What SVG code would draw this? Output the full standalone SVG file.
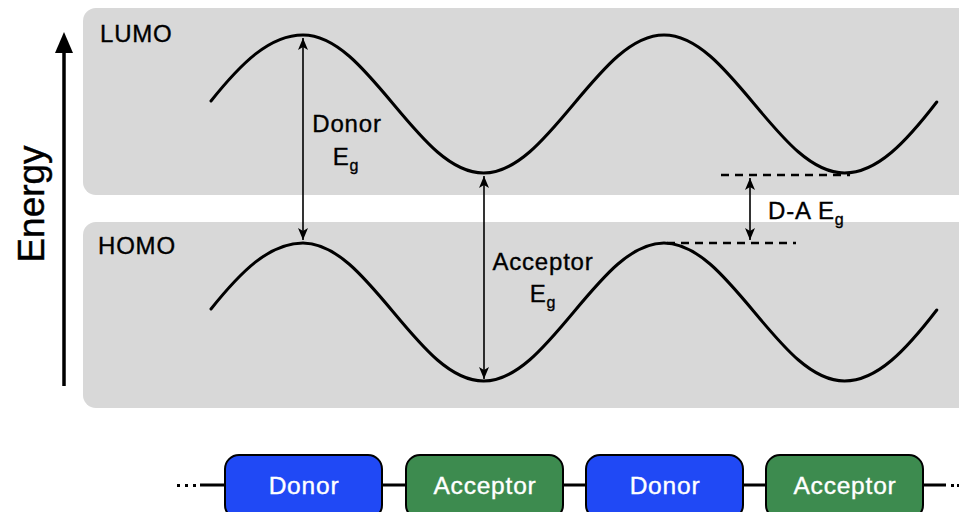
<svg xmlns="http://www.w3.org/2000/svg" width="959" height="512" viewBox="0 0 959 512">
  <style>
    .band { fill: #d8d8d8; }
    .lbl { font-family: "Liberation Sans", Arial, sans-serif; font-size: 24px; fill: #000; stroke: #000; stroke-width: 0.35px; letter-spacing: 0.8px; }
    .sub { font-size: 16px; }
    .wave { fill: none; stroke: #000; stroke-width: 3; stroke-linecap: round; }
    .gap { stroke: #000; stroke-width: 1.6; fill: none; }
    .dash { stroke: #000; stroke-width: 2.6; stroke-dasharray: 8 6; fill: none; }
    .unit { stroke: #000; stroke-width: 2; }
    .donor { fill: #2049f5; }
    .acceptor { fill: #3d8b4f; }
    .unit-text { font-family: "Liberation Sans", Arial, sans-serif; font-size: 24.5px; fill: #fff; stroke: #fff; stroke-width: 0.4px; letter-spacing: 0.8px; text-anchor: middle; }
    .chain { stroke: #000; stroke-width: 3; fill: none; }
  </style>
  <defs>
    <marker id="head" viewBox="0 0 12 10" refX="12" refY="5" markerWidth="12" markerHeight="10" markerUnits="userSpaceOnUse" orient="auto-start-reverse">
      <path d="M0,0 L12,5 L0,10 L3,5 Z" fill="#000"/>
    </marker>
  </defs>

  <!-- energy bands -->
  <g id="lumo-band">
    <rect class="band" x="83" y="8" width="890" height="187" rx="13"/>
    <text class="lbl" x="100" y="42">LUMO</text>
  </g>
  <g id="homo-band">
    <rect class="band" x="83" y="222" width="890" height="186" rx="13"/>
    <text class="lbl" x="98" y="254">HOMO</text>
  </g>

  <!-- energy axis -->
  <g id="energy-axis">
    <line x1="64" y1="50" x2="64" y2="386" stroke="#000" stroke-width="3.5"/>
    <polygon points="64,32 55,53 73,53" fill="#000"/>
    <text x="44" y="204" transform="rotate(-90 44 204)" text-anchor="middle" font-family="Liberation Sans, Arial, sans-serif" font-size="37" stroke="#000" stroke-width="0.4">Energy</text>
  </g>

  <!-- LUMO and HOMO level profiles -->
  <g id="lumo-wave">
    <path class="wave" d="M211,101
      c30,-37.5 58.5,-66 92,-66
      c32.66,0 60.81,33.65 90.25,69
      c29.44,35.35 57.59,69 90.25,69
      c32.66,0 60.81,-33.65 90.25,-69
      c29.44,-35.35 57.59,-69 90.25,-69
      c32.66,0 60.81,33.65 90.25,69
      c29.44,35.35 57.59,69 90.25,69
      c32.66,0 61.5,-31 92.25,-71"/>
  </g>
  <g id="homo-wave">
    <path class="wave" d="M211,309
      c30,-37.5 58.5,-66 92,-66
      c32.66,0 60.81,33.65 90.25,69
      c29.44,35.35 57.59,69 90.25,69
      c32.66,0 60.81,-33.65 90.25,-69
      c29.44,-35.35 57.59,-69 90.25,-69
      c32.66,0 60.81,33.65 90.25,69
      c29.44,35.35 57.59,69 90.25,69
      c32.66,0 61.5,-31 92.25,-71"/>
  </g>

  <!-- band gaps -->
  <g id="connectors">
    <line class="gap" x1="303" y1="38" x2="303" y2="240" marker-start="url(#head)" marker-end="url(#head)"/>
    <line class="gap" x1="484" y1="176" x2="484" y2="379" marker-start="url(#head)" marker-end="url(#head)"/>
    <line class="dash" x1="721" y1="175" x2="850" y2="175"/>
    <line class="dash" x1="667" y1="243" x2="796" y2="243"/>
    <line class="gap" x1="750" y1="178" x2="750" y2="240" marker-start="url(#head)" marker-end="url(#head)"/>
    <!-- polymer backbone -->
    <line class="chain" x1="200" y1="485" x2="946" y2="485"/>
    <g fill="#000">
      <rect x="177" y="484" width="3" height="3"/>
      <rect x="185" y="484" width="3" height="3"/>
      <rect x="193" y="484" width="3" height="3"/>
      <rect x="951" y="484" width="3" height="3"/>
      <rect x="957" y="484" width="3" height="3"/>
    </g>
  </g>

  <g id="donor-gap-label">
    <text class="lbl" x="347" y="132" text-anchor="middle">Donor</text>
    <text class="lbl" x="346" y="165" text-anchor="middle">E<tspan class="sub" dy="6">g</tspan></text>
  </g>
  <g id="acceptor-gap-label">
    <text class="lbl" x="543" y="270" text-anchor="middle">Acceptor</text>
    <text class="lbl" x="543" y="302" text-anchor="middle">E<tspan class="sub" dy="6">g</tspan></text>
  </g>
  <g id="da-gap-label">
    <text class="lbl" x="768" y="219">D-A E<tspan class="sub" dy="6">g</tspan></text>
  </g>

  <!-- repeat units -->
  <g id="donor-1">
    <rect class="unit donor" x="225" y="455" width="157" height="64" rx="14"/>
    <text class="unit-text" x="304" y="494">Donor</text>
  </g>
  <g id="acceptor-1">
    <rect class="unit acceptor" x="406" y="455" width="157" height="64" rx="14"/>
    <text class="unit-text" x="485" y="494">Acceptor</text>
  </g>
  <g id="donor-2">
    <rect class="unit donor" x="586" y="455" width="157" height="64" rx="14"/>
    <text class="unit-text" x="665" y="494">Donor</text>
  </g>
  <g id="acceptor-2">
    <rect class="unit acceptor" x="766" y="455" width="157" height="64" rx="14"/>
    <text class="unit-text" x="845" y="494">Acceptor</text>
  </g>
</svg>
